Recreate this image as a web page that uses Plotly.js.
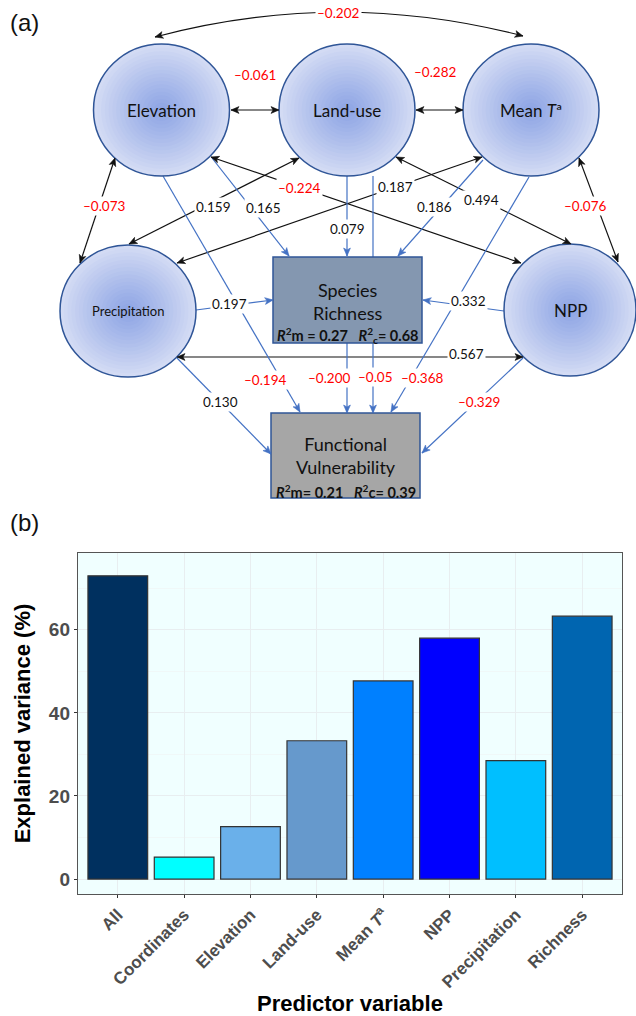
<!DOCTYPE html>
<html><head><meta charset="utf-8">
<script src="https://cdn.plot.ly/plotly-3.0.1.min.js"></script>
<style>html,body{margin:0;padding:0;background:#fff}#chart{width:636px;height:1016px}</style>
</head><body><div id="chart"></div>
<script>
// ================= DATA =================
// Panel (b): explained variance per predictor
const categories = ['All','Coordinates','Elevation','Land-use','Mean Tª','NPP','Precipitation','Richness'];
const tickLabels = ['All','Coordinates','Elevation','Land-use','Mean <i>T</i><sup>a</sup>','NPP','Precipitation','Richness'];
const explainedVariance = [73.0, 5.3, 12.6, 33.3, 47.7, 58.0, 28.5, 63.3];
const yTickValues = [0, 20, 40, 60];

// Panel (a): path model
const nodeNames = ['Elevation','Land-use','Mean Tª','Precipitation','NPP'];
const responseNames = ['Species Richness','Functional Vulnerability'];
const r2Marginal = [0.27, 0.21];
const r2Conditional = [0.68, 0.39];
// correlations (double-headed)
const covFrom  = ['Elevation','Land-use','Elevation','Elevation','Mean Tª','Elevation','Land-use','Mean Tª','Land-use','Precipitation'];
const covTo    = ['Land-use','Mean Tª','Mean Tª','Precipitation','NPP','NPP','Precipitation','Precipitation','NPP','NPP'];
const covValues = [-0.061, -0.282, -0.202, -0.073, -0.076, -0.224, 0.159, 0.187, 0.494, 0.567];
// directed paths
const pathFrom = ['Elevation','Elevation','Land-use','Land-use','Mean Tª','Mean Tª','Precipitation','Precipitation','NPP','NPP','Species Richness'];
const pathTo   = ['Species Richness','Functional Vulnerability','Species Richness','Functional Vulnerability','Species Richness','Functional Vulnerability','Species Richness','Functional Vulnerability','Species Richness','Functional Vulnerability','Functional Vulnerability'];
const pathValues = [0.165, -0.194, 0.079, -0.05, 0.186, -0.368, 0.197, 0.130, 0.332, -0.329, -0.200];
const pathDigits = [3,3,3,2,3,3,3,3,3,3,3];

// ================= STYLE / GEOMETRY =================
const W = 636, H = 1016;
const barColors = ['#00305f','#00ffff','#6ab0ea','#6699cc','#0080ff','#0000ff','#00bfff','#0065b0'];
const nodeGeom = {
  'Elevation':     {cx:161.5, cy:110, rx:68, ry:66, size:17},
  'Land-use':      {cx:347,   cy:110, rx:68, ry:66, size:17},
  'Mean Tª':       {cx:531,   cy:110, rx:68, ry:66, size:17},
  'Precipitation': {cx:128,   cy:311, rx:68, ry:66, size:13},
  'NPP':           {cx:570,   cy:310, rx:66, ry:66, size:17}
};
const boxGeom = {
  'Species Richness':         {x0:273, y0:257, x1:422, y1:343, fill:'#8497b0', ty:301, r2y:335, cx:347.5},
  'Functional Vulnerability': {x0:271, y0:413, x1:420, y1:498, fill:'#a6a6a6', ty:455, r2y:491, cx:345.5}
};
const covGeom = [
  {p:[231,110,279,110], l:[255,75]},
  {p:[416,110,463,110], l:[435,72]},
  {curve:[155,37,339,-12,523,36], l:[338,13]},
  {p:[115,158,80,263], l:[104,206]},
  {p:[579,158,618,262], l:[585,206]},
  {p:[211,157,521,263], l:[299,188]},
  {p:[299,158,129,244], l:[213,207]},
  {p:[482,157,177,263], l:[395,187]},
  {p:[396,157,571,244], l:[481,200]},
  {p:[177,357,523,357], l:[466,354]}
];
const pathGeom = [
  {p:[212,158,289,256], l:[263,208]},
  {p:[163,176,300,412], l:[265,380]},
  {p:[347,176,347,256], l:[347,229]},
  {p:[373,176,373,413], l:[375,377]},
  {p:[483,160,398,256], l:[434,207]},
  {p:[529,177,391,412], l:[422,378]},
  {p:[196,310,273,300], l:[229,304]},
  {p:[177,358,271,454], l:[220,402]},
  {p:[504,311,423,300], l:[468,301]},
  {p:[523,358,422,453], l:[479,402]},
  {p:[347,343,347,413], l:[329,378]}
];
const BLACK = '#111111', BLUE = '#4472c4', RED = '#ff0000';
const LABEL_FONT = 'Lato, "Open Sans", sans-serif';
const AXIS_FAMILY = 'Liberation Sans, Arial, sans-serif';

function fmt(v, d) { return (v < 0 ? '–' : '') + Math.abs(v).toFixed(d); }
function mix(a, b, t) { return 'rgb(' + a.map((c,i)=>Math.round(c + (b[i]-c)*t)).join(',') + ')'; }

const shapes = [];
const annotations = [];
const ref = {xref:'x2', yref:'y2'};

// arrowhead as a small filled triangle path
function head(x0, y0, x1, y1, color) {
  const dx = x1 - x0, dy = y1 - y0, L = Math.hypot(dx, dy);
  const ux = dx / L, uy = dy / L, px = -uy, py = ux;
  const len = 8, hw = 3.4, notch = 2;
  const bx = x1 - ux*len, by = y1 - uy*len;
  const nx = x1 - ux*(len - notch), ny = y1 - uy*(len - notch);
  const path = `M ${x1} ${y1} L ${bx + px*hw} ${by + py*hw} L ${nx} ${ny} L ${bx - px*hw} ${by - py*hw} Z`;
  shapes.push(Object.assign({type:'path', path:path, fillcolor:color, line:{color:color, width:0.6}}, ref));
}
function label(x, y, v, d) {
  annotations.push({x:x, y:y, xref:'x2', yref:'y2', text:fmt(v, d), showarrow:false, bgcolor:'white', borderpad:1,
    font:{family:LABEL_FONT, size:13.5, color: v < 0 ? RED : BLACK}});
}

const heads = [];
// lines: correlations
covValues.forEach((v, i) => {
  const g = covGeom[i];
  if (g.curve) {
    const c = g.curve;
    shapes.push(Object.assign({type:'path', path:`M ${c[0]} ${c[1]} Q ${c[2]} ${c[3]} ${c[4]} ${c[5]}`, line:{color:BLACK, width:1.2}}, ref));
    heads.push([c[2], c[3], c[0], c[1], BLACK], [c[2], c[3], c[4], c[5], BLACK]);
  } else {
    const p = g.p;
    shapes.push(Object.assign({type:'line', x0:p[0], y0:p[1], x1:p[2], y1:p[3], line:{color:BLACK, width:1.2}}, ref));
    heads.push([p[0], p[1], p[2], p[3], BLACK], [p[2], p[3], p[0], p[1], BLACK]);
  }
});
// lines: directed paths
pathValues.forEach((v, i) => {
  const p = pathGeom[i].p;
  shapes.push(Object.assign({type:'line', x0:p[0], y0:p[1], x1:p[2], y1:p[3], line:{color:BLUE, width:1.2}}, ref));
  heads.push([p[0], p[1], p[2], p[3], BLUE]);
});

// nodes (radial gradient approximated by concentric discs)
const edgeC = [211, 219, 244], centerC = [140, 163, 228];
nodeNames.forEach(name => {
  const g = nodeGeom[name];
  const N = 18;
  for (let k = 0; k < N; k++) {
    const f = 1 - k / N;
    shapes.push(Object.assign({type:'circle', x0:g.cx - g.rx*f, x1:g.cx + g.rx*f, y0:g.cy - g.ry*f, y1:g.cy + g.ry*f,
      fillcolor: mix(centerC, edgeC, Math.pow(f, 1.1)), line:{width:0}}, ref));
  }
  shapes.push(Object.assign({type:'circle', x0:g.cx - g.rx, x1:g.cx + g.rx, y0:g.cy - g.ry, y1:g.cy + g.ry,
    fillcolor:'rgba(0,0,0,0)', line:{color:'#2f5597', width:1.5}}, ref));
  annotations.push({x:g.cx, y:g.cy, xref:'x2', yref:'y2', showarrow:false,
    text: name.replace('Tª', '<i>T</i>ª'), font:{family:LABEL_FONT, size:g.size, color:'#111'}});
});

// response boxes
responseNames.forEach((name, i) => {
  const b = boxGeom[name];
  shapes.push(Object.assign({type:'rect', x0:b.x0, x1:b.x1, y0:b.y0, y1:b.y1, fillcolor:b.fill, line:{color:'#2f5597', width:1.5}}, ref));
  annotations.push({x:b.cx, y:b.ty, xref:'x2', yref:'y2', showarrow:false, text:name.replace(' ', '<br>'),
    font:{family:LABEL_FONT, size:18, color:'#111'}});
  const sub = i === 0 ? '<sub>c</sub>' : 'c';
  const sp = i === 0 ? ' = ' : '= ';
  annotations.push({x:b.cx, y:b.r2y, xref:'x2', yref:'y2', showarrow:false,
    text:'<b><i>R</i><sup>2</sup>m' + sp + r2Marginal[i].toFixed(2) + '&nbsp;&nbsp;&nbsp;<i>R</i><sup>2</sup>' + sub + '= ' + r2Conditional[i].toFixed(2) + '</b>',
    font:{family:LABEL_FONT, size:14.5, color:'#111'}});
});

// arrowheads on top of boxes/circles
heads.forEach(h => head(h[0], h[1], h[2], h[3], h[4]));

// coefficient labels (drawn on top of the lines)
covValues.forEach((v, i) => label(covGeom[i].l[0], covGeom[i].l[1], v, 3));
pathValues.forEach((v, i) => label(pathGeom[i].l[0], pathGeom[i].l[1], v, pathDigits[i]));

// panel tags
annotations.push({x:8, y:22, xref:'x2', yref:'y2', xanchor:'left', yanchor:'middle', showarrow:false, text:'(a)',
  font:{family:AXIS_FAMILY, size:24, color:'#111'}});
annotations.push({x:8, y:522, xref:'x2', yref:'y2', xanchor:'left', yanchor:'middle', showarrow:false, text:'(b)',
  font:{family:AXIS_FAMILY, size:24, color:'#111'}});
// x-axis title of panel (b), placed explicitly under the rotated tick labels
annotations.push({x:350, y:1003, xref:'x2', yref:'y2', xanchor:'center', yanchor:'middle', showarrow:false, text:'Predictor variable',
  font:{family:AXIS_FAMILY, size:22, color:'#000', weight:'bold'}});

// panel (b) background
shapes.unshift({type:'rect', xref:'x domain', yref:'y domain', x0:0, x1:1, y0:0, y1:1, fillcolor:'#f0ffff', line:{width:0}, layer:'below'});

const traces = [
  {type:'scatter', x:[], y:[], xaxis:'x2', yaxis:'y2', hoverinfo:'skip', showlegend:false},
  {type:'bar', x:categories, y:explainedVariance, width:0.9, xaxis:'x', yaxis:'y',
   marker:{color:barColors, line:{color:'#333333', width:1.2}}, hoverinfo:'x+y'}
];

const axisFont = {family:AXIS_FAMILY, size:17, color:'#4d4d4d', weight:'bold'};
const layout = {
  width:W, height:H, margin:{l:0, r:0, t:0, b:0}, paper_bgcolor:'white', plot_bgcolor:'rgba(0,0,0,0)',
  showlegend:false, font:{family:LABEL_FONT},
  xaxis2:{domain:[0,1], range:[0,W], anchor:'y2', visible:false, fixedrange:true},
  yaxis2:{domain:[0,1], range:[H,0], anchor:'x2', visible:false, fixedrange:true, autorange:false},
  xaxis:{domain:[78/W, 622/W], anchor:'y', type:'category', range:[-0.6, 7.6],
    tickmode:'array', tickvals:categories, ticktext:tickLabels, tickangle:-45, tickfont:axisFont,
    ticks:'outside', ticklen:3, tickcolor:'#333', showgrid:true, gridcolor:'#e8eef0', gridwidth:1,
    showline:true, mirror:true, linecolor:'#555', linewidth:1.2, zeroline:false},
  yaxis:{domain:[(H-894)/H, (H-553)/H], anchor:'x', range:[-3.6, 78.5],
    tickmode:'array', tickvals:yTickValues, tickfont:Object.assign({}, axisFont, {size:19}),
    ticks:'outside', ticklen:3, tickcolor:'#333', showgrid:true, gridcolor:'#e8eef0', gridwidth:1,
    minor:{tickmode:'array', tickvals:[10,30,50,70], showgrid:true, gridcolor:'#f0f4f4', gridwidth:0.6, ticks:''},
    showline:true, mirror:true, linecolor:'#555', linewidth:1.2, zeroline:false,
    title:{text:'Explained variance (%)', standoff:12, font:{family:AXIS_FAMILY, size:22, color:'#000', weight:'bold'}}},
  shapes:shapes, annotations:annotations
};

Plotly.newPlot('chart', traces, layout, {displayModeBar:false, staticPlot:true});
</script>
</body></html>
